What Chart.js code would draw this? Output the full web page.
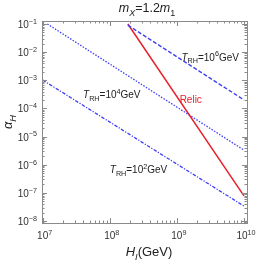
<!DOCTYPE html>
<html><head><meta charset="utf-8">
<script src="https://cdn.jsdelivr.net/npm/chart.js@4/dist/chart.umd.min.js"></script>
<style>html,body{margin:0;padding:0;background:#fff;overflow:hidden}</style>
</head><body>
<canvas id="c" width="270" height="261"></canvas>
<script>
// ---- data ----
const xTickExps = [7, 8, 9, 10];
const yTickExps = [-8, -7, -6, -5, -4, -3, -2, -1];
const trh6H = [1.86e8, 1e10];
const trh6A = [9.1e-2, 2.0e-4];
const trh4H = [1.175e7, 1e10];
const trh4A = [1.0e-1, 3.3e-6];
const trh2H = [1e7, 1e10];
const trh2A = [1.02e-3, 3.4e-8];
const relicH = [1.86e8, 1e10];
const relicA = [1.0e-1, 7.8e-8];

const BLUE = '#3d3df8';
const RED = '#e8202a';
const FONT = '"Liberation Sans", Arial, sans-serif';

function pts(h, a) { return h.map((v, i) => ({x: v, y: a[i]})); }

function rich(ctx, segs, x, y, align, size, color) {
  const parts = segs.map(s => {
    const sz = s.s ? size * 0.72 : size;
    const f = (s.i ? 'italic ' : '') + sz + 'px ' + FONT;
    ctx.font = f;
    return {t: s.t, f, w: ctx.measureText(s.t).width, dy: s.s === -1 ? size * 0.28 : (s.s === 1 ? -size * 0.42 : 0)};
  });
  const tot = parts.reduce((a, p) => a + p.w, 0);
  let cx = align === 'center' ? x - tot / 2 : (align === 'right' ? x - tot : x);
  ctx.fillStyle = color || '#222';
  ctx.textAlign = 'left';
  ctx.textBaseline = 'alphabetic';
  for (const p of parts) { ctx.font = p.f; ctx.fillText(p.t, cx, y + p.dy); cx += p.w; }
}

function trhLabel(exp) {
  return [{t: 'T', i: 1}, {t: 'RH', s: -1}, {t: '=10'}, {t: String(exp), s: 1}, {t: 'GeV'}];
}

const decor = {
  id: 'decor',
  afterDatasetsDraw(chart) {
    const ctx = chart.ctx, a = chart.chartArea, xs = chart.scales.x, ys = chart.scales.y;
    ctx.save();
    ctx.strokeStyle = '#8a8a8a';
    ctx.lineWidth = 1;
    // ticks
    ctx.beginPath();
    for (let e = xTickExps[0] - 1; e <= xTickExps[xTickExps.length - 1]; e++) {
      for (let m = 1; m <= 9; m++) {
        const v = m * Math.pow(10, e);
        if (v < xs.min || v > xs.max) continue;
        const px = Math.round(xs.getPixelForValue(v)) + 0.5;
        const len = m === 1 ? 5 : 2.5;
        ctx.moveTo(px, a.bottom); ctx.lineTo(px, a.bottom - len);
        ctx.moveTo(px, a.top); ctx.lineTo(px, a.top + len);
      }
    }
    for (let e = yTickExps[0] - 1; e <= yTickExps[yTickExps.length - 1]; e++) {
      for (let m = 1; m <= 9; m++) {
        const v = m * Math.pow(10, e);
        if (v < ys.min || v > ys.max) continue;
        const py = Math.round(ys.getPixelForValue(v)) + 0.5;
        const len = m === 1 ? 5 : 2.5;
        ctx.moveTo(a.left, py); ctx.lineTo(a.left + len, py);
        ctx.moveTo(a.right, py); ctx.lineTo(a.right - len, py);
      }
    }
    ctx.stroke();
    // frame
    ctx.strokeRect(Math.round(a.left) + 0.5, Math.round(a.top) + 0.5, Math.round(a.right - a.left), Math.round(a.bottom - a.top));

    // tick labels
    for (const e of xTickExps) {
      const px = xs.getPixelForValue(Math.pow(10, e));
      rich(ctx, [{t: '10'}, {t: String(e), s: 1}], px + 2, 239, 'center', 10, '#333');
    }
    for (const e of yTickExps) {
      const py = ys.getPixelForValue(Math.pow(10, e));
      rich(ctx, [{t: '10'}, {t: '\u2212' + (-e), s: 1}], 37, py + 4, 'right', 10, '#333');
    }

    // in-plot labels (anchored in data coordinates)
    const lab = (segs, h, al, color) => rich(ctx, segs, xs.getPixelForValue(h), ys.getPixelForValue(al), 'left', 10, color);
    lab(trhLabel(6), 1.17e9, 5.0e-3, '#222');
    lab(trhLabel(4), 4.0e7, 2.4e-4, '#222');
    lab(trhLabel(2), 1.0e8, 5.0e-7, '#222');
    lab([{t: 'Relic'}], 1.1e9, 1.6e-4, RED);

    // title
    rich(ctx, [{t: 'm', i: 1}, {t: 'X', i: 1, s: -1}, {t: '=1.2'}, {t: 'm', i: 1}, {t: '1', s: -1}], 147, 12, 'center', 12.5);
    // x axis title
    rich(ctx, [{t: 'H', i: 1}, {t: 'I', i: 1, s: -1}, {t: '(GeV)'}], 149, 256, 'center', 13);
    // y axis title
    ctx.save();
    ctx.translate(12, (a.top + a.bottom) / 2);
    ctx.rotate(-Math.PI / 2);
    rich(ctx, [{t: '\u03b1', i: 1}, {t: 'H', i: 1, s: -1}], 0, 0, 'center', 13);
    ctx.restore();
    ctx.restore();
  }
};

new Chart(document.getElementById('c'), {
  type: 'scatter',
  data: {
    datasets: [
      {data: pts(trh6H, trh6A), borderColor: BLUE, borderWidth: 1.3, borderDash: [4, 2], showLine: true},
      {data: pts(trh4H, trh4A), borderColor: BLUE, borderWidth: 1.3, borderDash: [1.5, 1.5], showLine: true},
      {data: pts(trh2H, trh2A), borderColor: BLUE, borderWidth: 1.3, borderDash: [3.5, 1.5, 1.2, 1.5], showLine: true},
      {data: pts(relicH, relicA), borderColor: RED, borderWidth: 1.5, showLine: true}
    ]
  },
  options: {
    responsive: false,
    animation: false,
    devicePixelRatio: 1,
    layout: {padding: {left: 42, right: 23, top: 21, bottom: 38}},
    elements: {point: {radius: 0, hoverRadius: 0}, line: {tension: 0}},
    plugins: {legend: {display: false}, tooltip: {enabled: false}},
    events: [],
    scales: {
      x: {type: 'logarithmic', display: false, min: 9.77e6, max: 1.11e10},
      y: {type: 'logarithmic', display: false, min: 8.5e-9, max: 0.128}
    }
  },
  plugins: [decor]
});
</script>
</body></html>
